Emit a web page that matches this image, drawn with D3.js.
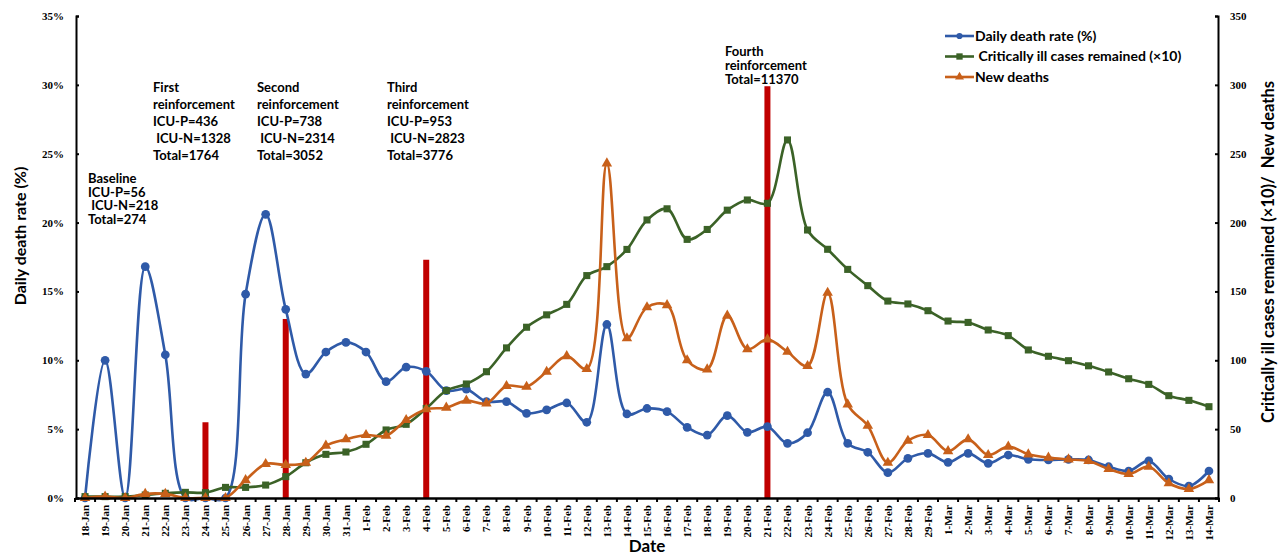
<!DOCTYPE html>
<html>
<head>
<meta charset="utf-8">
<script src="https://cdn.jsdelivr.net/npm/d3@7"></script>
<style>
  html, body { margin: 0; padding: 0; background: #fff; }
  svg { display: block; }
  .tick-label { font-family: "Liberation Serif", "Times New Roman", serif; font-weight: bold; font-size: 11px; fill: #000; }
  .sans { font-family: Lato, "Open Sans", sans-serif; font-weight: bold; fill: #000; }
</style>
</head>
<body>
<svg id="chart" width="1283" height="555"></svg>
<script>
// Dates, 18 Jan – 14 Mar 2020
const dates = [
  "18-Jan","19-Jan","20-Jan","21-Jan","22-Jan","23-Jan","24-Jan","25-Jan","26-Jan","27-Jan",
  "28-Jan","29-Jan","30-Jan","31-Jan","1-Feb","2-Feb","3-Feb","4-Feb","5-Feb","6-Feb",
  "7-Feb","8-Feb","9-Feb","10-Feb","11-Feb","12-Feb","13-Feb","14-Feb","15-Feb","16-Feb",
  "17-Feb","18-Feb","19-Feb","20-Feb","21-Feb","22-Feb","23-Feb","24-Feb","25-Feb","26-Feb",
  "27-Feb","28-Feb","29-Feb","1-Mar","2-Mar","3-Mar","4-Mar","5-Mar","6-Mar","7-Mar",
  "8-Mar","9-Mar","10-Mar","11-Mar","12-Mar","13-Mar","14-Mar"
];

// Daily death rate (%), left axis
const deathRate = [
  0, 10.0, 0, 16.8, 10.4, 0, 0, 0, 14.8, 20.6,
  13.7, 9.0, 10.6, 11.3, 10.6, 8.45, 9.5, 9.2, 7.8, 7.9,
  7.0, 7.0, 6.15, 6.4, 6.9, 5.5, 12.6, 6.1, 6.5, 6.27,
  5.13, 4.57, 5.98, 4.77, 5.18, 3.97, 4.74, 7.68, 3.97, 3.32,
  1.84, 2.88, 3.24, 2.59, 3.24, 2.52, 3.12, 2.81, 2.76, 2.8,
  2.76, 2.27, 1.96, 2.69, 1.38, 0.87, 1.96
];

// Critically ill cases remained (x10), right axis
const criticalIll = [
  1, 1, 1, 2.2, 3.4, 4.1, 3.9, 7.7, 7.7, 9.4,
  15.5, 25.6, 31.7, 33.4, 39, 49.4, 53.5, 65, 78, 82.8,
  91.7, 109, 124, 133, 140.6, 161.5, 168, 180.5, 201.9, 210,
  187.8, 195, 209, 216.4, 214, 260, 194.6, 180.6, 166, 154.2,
  143, 140.9, 136, 128.5, 127.5, 122, 117.9, 107.5, 102.9, 99.7,
  96, 91.5, 86.6, 82.5, 74.3, 70.9, 66.3
];

// New deaths, right axis
const newDeaths = [
  0, 1, 0, 3, 3, 0, 0, 0, 13, 24.7,
  24, 25.6, 38, 42.6, 45.7, 45.2, 56.6, 64.4, 65.6, 70.7,
  68.7, 81.3, 80.8, 91.7, 103, 93.7, 243, 116, 138.5, 140,
  100, 93.4, 132.4, 108, 115.2, 106.2, 95.8, 149, 68, 52.5,
  25.6, 41.6, 45.7, 34, 42.6, 31.2, 37.3, 31.7, 29.3, 28,
  26.9, 21, 17.4, 22.7, 10.7, 6.5, 13
];

// Reinforcement dates and bar heights (left axis, %)
const reinforcementDates = ["24-Jan", "28-Jan", "4-Feb", "21-Feb"];
const reinforcementBars = [5.5, 13.0, 17.3, 29.9];

// Axis ticks
const leftTicks = [0, 5, 10, 15, 20, 25, 30, 35];
const rightTicks = [0, 50, 100, 150, 200, 250, 300, 350];

// Annotation blocks: x, first baseline, line spacing, lines
const notes = [
  { x: 88,  y: 183, dy: 13.7, lines: ["Baseline", "ICU-P=56", " ICU-N=218", "Total=274"] },
  { x: 153, y: 92,  dy: 17.1, lines: ["First", "reinforcement", "ICU-P=436", " ICU-N=1328", "Total=1764"] },
  { x: 257, y: 92,  dy: 17.1, lines: ["Second", "reinforcement", "ICU-P=738", " ICU-N=2314", "Total=3052"] },
  { x: 387, y: 92,  dy: 17.1, lines: ["Third", "reinforcement", "ICU-P=953", " ICU-N=2823", "Total=3776"] },
  { x: 725, y: 56,  dy: 13.8, lines: ["Fourth", "reinforcement", "Total=11370"] }
];

const seriesNames = ["Daily death rate (%)", " Critically ill cases remained (\u00d710)", "New deaths"];
const colors = { blue: "#2f5aa8", green: "#3b6227", orange: "#c8601a", red: "#c00000" };

const svg = d3.select("#chart");
const plot = { left: 75, right: 1219, top: 16, bottom: 498 };

const x = d3.scaleBand().domain(dates).range([plot.left, plot.right]).paddingInner(0).paddingOuter(0);
const cx = d => x(d) + x.bandwidth() / 2;
const yL = d3.scaleLinear().domain([0, 35]).range([plot.bottom, plot.top]);
const yR = d3.scaleLinear().domain([0, 350]).range([plot.bottom, plot.top]);

// Reinforcement bars
svg.append("g").selectAll("rect")
  .data(reinforcementDates.map((d, i) => ({ d, v: reinforcementBars[i] })))
  .join("rect")
  .attr("x", d => cx(d.d) - 3)
  .attr("width", 6)
  .attr("y", d => yL(d.v))
  .attr("height", d => yL(0) - yL(d.v))
  .attr("fill", colors.red);

// Smoothed line series with markers
const curve = d3.curveCatmullRom.alpha(0.5);
function drawSeries(values, yScale, color, symbolType, symbolSize) {
  const pts = values.map((v, i) => [cx(dates[i]), yScale(v)]);
  const g = svg.append("g");
  g.append("path")
    .attr("d", d3.line().curve(curve)(pts))
    .attr("fill", "none")
    .attr("stroke", color)
    .attr("stroke-width", 2.6);
  g.selectAll("path.m").data(pts).join("path")
    .attr("class", "m")
    .attr("transform", p => `translate(${p[0]},${p[1]})`)
    .attr("d", d3.symbol().type(symbolType).size(symbolSize))
    .attr("fill", color);
}
drawSeries(deathRate, yL, colors.blue, d3.symbolCircle, 60);
drawSeries(criticalIll, yR, colors.green, d3.symbolSquare, 50);
drawSeries(newDeaths, yR, colors.orange, d3.symbolTriangle, 48);

// Left axis
const leftAxis = svg.append("g").attr("transform", `translate(${plot.left + 1},0)`)
  .call(d3.axisLeft(yL).tickValues(leftTicks).tickSize(-3).tickPadding(12).tickFormat(d => d + "%"));
// Right axis
const rightAxis = svg.append("g").attr("transform", `translate(${plot.right - 1},0)`)
  .call(d3.axisRight(yR).tickValues(rightTicks).tickSize(-3).tickPadding(12));
[leftAxis, rightAxis].forEach(a => {
  a.select(".domain").attr("stroke", "#000").attr("stroke-width", 2);
  a.selectAll(".tick line").attr("stroke", "#000").attr("stroke-width", 2);
  a.selectAll("text").attr("class", "tick-label").attr("font-family", null).attr("font-size", null);
});

// Bottom axis: ticks between categories, rotated labels under each date
const bottom = svg.append("g").attr("transform", `translate(0,${plot.bottom})`)
  .call(d3.axisBottom(x).tickSize(0).tickPadding(0));
bottom.select(".domain").attr("stroke", "#000").attr("stroke-width", 2.5);
bottom.selectAll(".tick text")
  .attr("class", "tick-label")
  .attr("font-family", null).attr("font-size", null)
  .attr("transform", "rotate(-90)")
  .attr("x", -7).attr("y", 0).attr("dy", "0.36em")
  .style("text-anchor", "end");
bottom.selectAll("line.sep")
  .data(d3.range(dates.length + 1))
  .join("line")
  .attr("class", "sep")
  .attr("x1", i => plot.left + i * x.step()).attr("x2", i => plot.left + i * x.step())
  .attr("y1", 0).attr("y2", 4)
  .attr("stroke", "#000").attr("stroke-width", 2);

// Axis titles
svg.append("text").attr("class", "sans")
  .attr("transform", `translate(26,236) rotate(-90)`)
  .attr("text-anchor", "middle").attr("font-size", 16)
  .text("Daily death rate (%)");
svg.append("text").attr("class", "sans")
  .attr("transform", `translate(1274,252) rotate(-90)`)
  .attr("text-anchor", "middle").attr("font-size", 16.5)
  .style("white-space", "pre")
  .text("Critically ill cases remained (\u00d710)/  New deaths");
svg.append("text").attr("class", "sans")
  .attr("x", 647).attr("y", 552)
  .attr("text-anchor", "middle").attr("font-size", 17)
  .text("Date");

// Annotations
notes.forEach(n => {
  const t = svg.append("text").attr("class", "sans").attr("font-size", 13)
    .style("white-space", "pre");
  n.lines.forEach((s, i) => {
    t.append("tspan").attr("x", n.x).attr("y", n.y + i * n.dy).text(s);
  });
});

// Legend
const legend = [
  { name: seriesNames[0], color: colors.blue, sym: d3.symbolCircle, size: 30 },
  { name: seriesNames[1], color: colors.green, sym: d3.symbolSquare, size: 40 },
  { name: seriesNames[2], color: colors.orange, sym: d3.symbolTriangle, size: 35 }
];
const lg = svg.append("g").selectAll("g").data(legend).join("g")
  .attr("transform", (d, i) => `translate(945,${36 + i * 20.5})`);
lg.append("line").attr("x1", 0).attr("x2", 29).attr("stroke", d => d.color).attr("stroke-width", 2.6);
lg.append("path").attr("transform", "translate(14.5,0)")
  .attr("d", d => d3.symbol().type(d.sym).size(d.size)())
  .attr("fill", d => d.color);
lg.append("text").attr("class", "sans").attr("x", 30).attr("dy", "0.35em")
  .attr("font-size", 14).style("white-space", "pre")
  .text(d => d.name);
</script>
</body>
</html>
